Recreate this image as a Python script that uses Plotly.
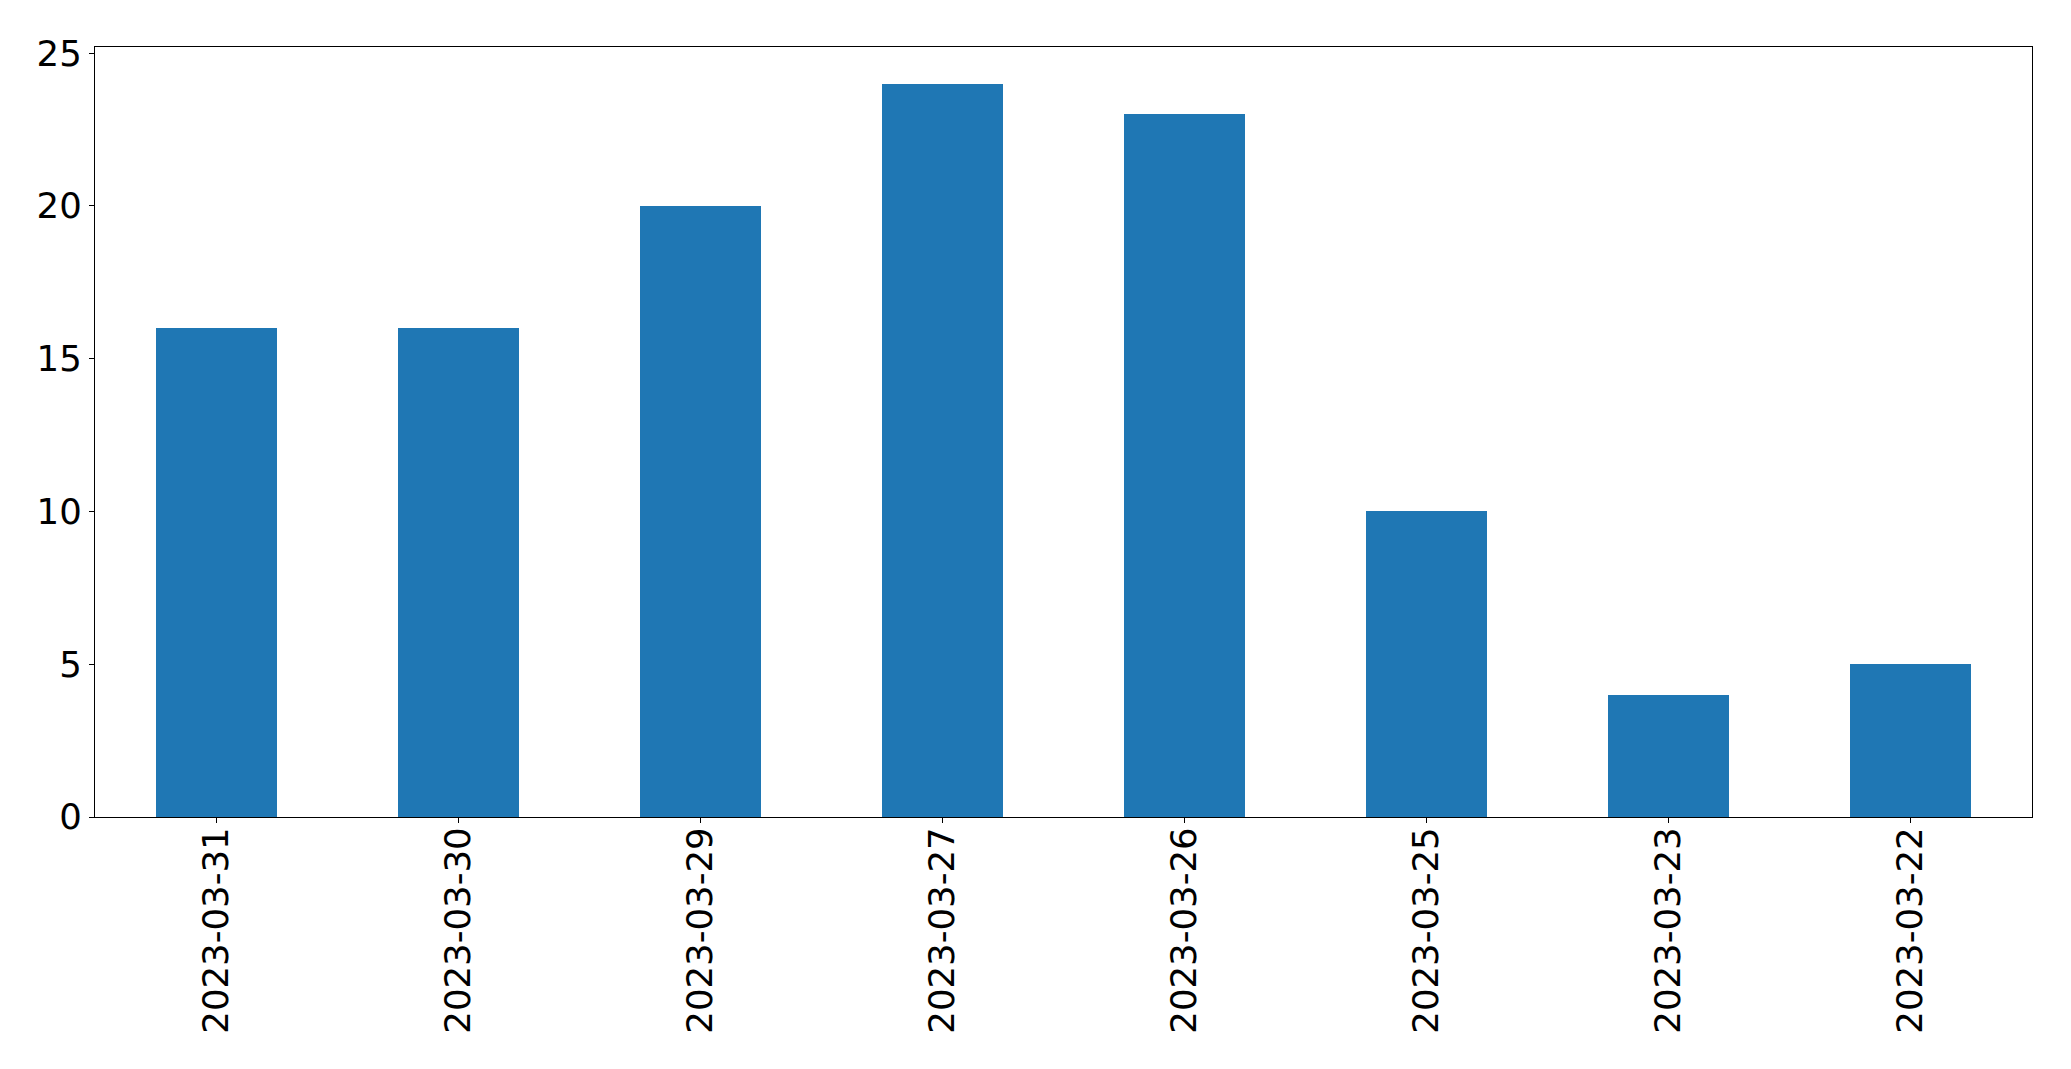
import plotly.graph_objects as go

dates = ["2023-03-31", "2023-03-30", "2023-03-29", "2023-03-27",
         "2023-03-26", "2023-03-25", "2023-03-23", "2023-03-22"]
counts = [16, 16, 20, 24, 23, 10, 4, 5]
y_ticks = [0, 5, 10, 15, 20, 25]

fig = go.Figure(go.Bar(x=dates, y=counts, width=0.5, marker=dict(color="#1f77b4", line=dict(width=0))))

axis_common = dict(
    showline=True, linecolor="black", linewidth=1.3, mirror=True,
    ticks="outside", ticklen=5, tickwidth=1.3, tickcolor="black",
    showgrid=False, zeroline=False,
    tickfont=dict(family="DejaVu Sans", size=35.5, color="black"),
)

fig.update_layout(
    width=2071, height=1069,
    margin=dict(l=87, r=47, t=39, b=260, pad=0),
    paper_bgcolor="white", plot_bgcolor="white",
    showlegend=False,
    bargap=0,
    xaxis=dict(type="category", range=[-0.5, 7.5], tickangle=-90, ticklabelstandoff=-10, **axis_common),
    yaxis=dict(range=[0, 25.2], tickvals=y_ticks, **axis_common),
)

fig.write_html("out.html")
